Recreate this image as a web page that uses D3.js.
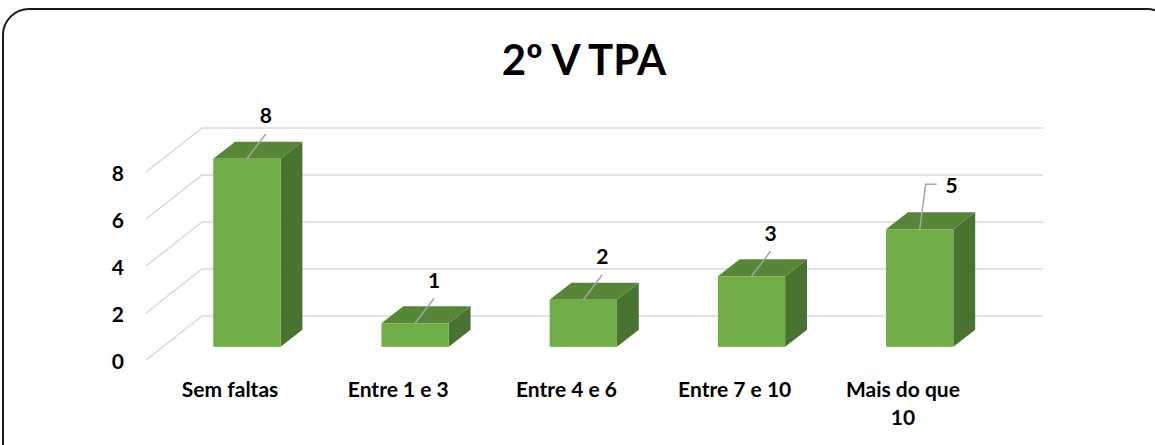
<!DOCTYPE html>
<html lang="pt">
<head>
<meta charset="UTF-8">
<title>2º V TPA</title>
<script src="https://d3js.org/d3.v7.min.js"></script>
<style>
  body { margin: 0; background: #fff; }
  svg text { font-family: Lato, "Open Sans", sans-serif; font-weight: bold; fill: #000; }
  .grid { stroke: #d9d9d9; stroke-width: 1.5px; fill: none; }
  .leader { stroke: #a6a6a6; stroke-width: 1.5px; fill: none; }
</style>
</head>
<body>
<div id="chart"></div>
<script>
// data
var categories = ["Sem faltas", "Entre 1 e 3", "Entre 4 e 6", "Entre 7 e 10", "Mais do que 10"];
var values = [8, 1, 2, 3, 5];
var yTicks = [0, 2, 4, 6, 8];
var title = "2º V TPA";
var elbowLabels = ["Mais do que 10"]; // label pulled aside with a bent leader

var width = 1155, height = 445;
var plot = {left: 146, right: 987, bottom: 360, top: 172};
// depth of the 3d box (oblique projection)
var depth = {dx: 56, dy: -44};
var barFront = 0.3, barBack = 0.69;
var fontSize = '21px';

var svg = d3.select('#chart').append('svg')
    .attr('width', width)
    .attr('height', height);

// chart frame (rounded, runs off the right / bottom edge)
svg.append('rect')
    .attr('x', 3).attr('y', 9)
    .attr('width', 1170).attr('height', 460)
    .attr('rx', 26).attr('ry', 26)
    .attr('fill', '#fff')
    .attr('stroke', '#1a1a1a')
    .attr('stroke-width', 2);

svg.append('text')
    .attr('x', 584).attr('y', 75)
    .attr('text-anchor', 'middle')
    .style('font-size', '42px')
    .text(title);

var x = d3.scaleBand()
    .domain(categories)
    .range([plot.left, plot.right])
    .paddingInner(0.6)
    .paddingOuter(0.3);

var y = d3.scaleLinear()
    .domain([0, 8])
    .range([plot.bottom, plot.top]);

// project a front-plane point back by fraction f of the depth
function proj(px, py, f) {
    return [px + f * depth.dx, py + f * depth.dy];
}
function pts(arr) {
    return arr.map(function (p) { return p.join(','); }).join(' ');
}

// gridlines: side wall diagonals + back wall horizontals
var grid = svg.append('g');
yTicks.forEach(function (t) {
    grid.append('polyline').attr('class', 'grid')
        .attr('points', pts([proj(plot.left, y(t), 0), proj(plot.left, y(t), 1), proj(plot.right, y(t), 1)]));
});

// y tick labels
svg.append('g').selectAll('text')
    .data(yTicks)
    .join('text')
    .attr('x', 124)
    .attr('y', function (d) { return y(d) + 2; })
    .attr('dy', '0.35em')
    .attr('text-anchor', 'end')
    .style('font-size', fontSize)
    .text(function (d) { return d; });

// bars
var bars = svg.append('g');
var bw = x.bandwidth();
categories.forEach(function (c, i) {
    var x0 = x(c), x1 = x0 + bw, yt = y(values[i]), yb = y(0);
    // side face
    bars.append('polygon').attr('fill', '#4a7230')
        .attr('points', pts([proj(x1, yt, barFront), proj(x1, yt, barBack), proj(x1, yb, barBack), proj(x1, yb, barFront)]));
    // top face
    bars.append('polygon').attr('fill', '#578637')
        .attr('points', pts([proj(x0, yt, barFront), proj(x1, yt, barFront), proj(x1, yt, barBack), proj(x0, yt, barBack)]));
    // front face
    var f = proj(x0, yt, barFront);
    bars.append('rect').attr('fill', '#70ad47')
        .attr('x', f[0]).attr('y', f[1])
        .attr('width', bw).attr('height', yb - yt);
});

// data labels with leader lines
var labels = svg.append('g');
categories.forEach(function (c, i) {
    var p = proj(x(c) + bw / 2, y(values[i]), barFront);
    var lx, ly;
    if (elbowLabels.indexOf(c) >= 0) {
        lx = p[0] + 32; ly = p[1] - 44;
        labels.append('polyline').attr('class', 'leader')
            .attr('points', pts([[lx - 15, ly - 1], [lx - 26, ly - 1], [p[0], p[1]]]));
    } else {
        lx = p[0] + 19; ly = p[1] - 43;
        labels.append('line').attr('class', 'leader')
            .attr('x1', lx).attr('y1', ly + 18)
            .attr('x2', p[0]).attr('y2', p[1]);
    }
    labels.append('text')
        .attr('x', lx).attr('y', ly)
        .attr('dy', '0.35em')
        .attr('text-anchor', 'middle')
        .style('font-size', fontSize)
        .text(values[i]);
});

// category labels on the front edge of the floor, wrapped like the original
var catG = svg.append('g');
categories.forEach(function (c) {
    var cx = x(c) + bw / 2;
    var t = catG.append('text')
        .attr('x', cx)
        .attr('y', 397)
        .attr('text-anchor', 'middle')
        .style('font-size', fontSize);
    var words = c.split(' '), line = [], lines = [];
    var probe = t.append('tspan');
    words.forEach(function (w) {
        line.push(w);
        probe.text(line.join(' '));
        if (probe.node().getComputedTextLength() > 130 && line.length > 1) {
            line.pop();
            lines.push(line.join(' '));
            line = [w];
        }
    });
    lines.push(line.join(' '));
    probe.remove();
    lines.forEach(function (l, k) {
        t.append('tspan')
            .attr('x', cx)
            .attr('dy', k ? 28 : 0)
            .text(l);
    });
});
</script>
</body>
</html>
